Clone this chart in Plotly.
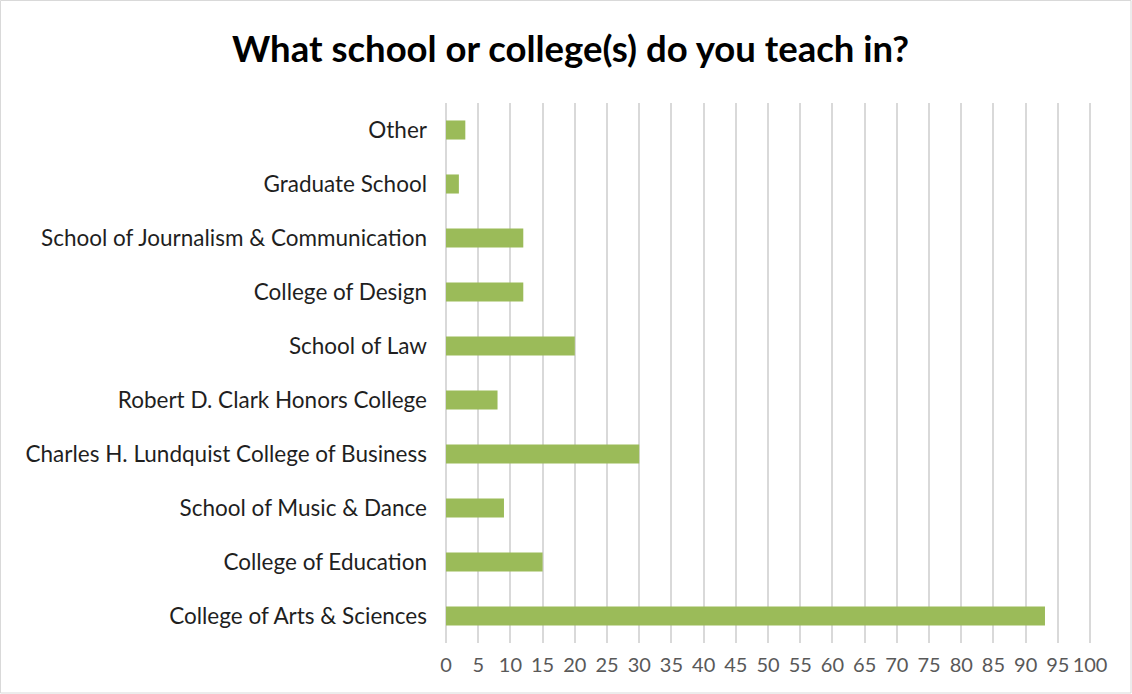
import plotly.graph_objects as go

categories = [
    "College of Arts & Sciences",
    "College of Education",
    "School of Music & Dance",
    "Charles H. Lundquist College of Business",
    "Robert D. Clark Honors College",
    "School of Law",
    "College of Design",
    "School of Journalism & Communication",
    "Graduate School",
    "Other",
]
values = [93, 15, 9, 30, 8, 20, 12, 12, 2, 3]
tick_vals = list(range(0, 101, 5))
tick_text = [str(v) for v in tick_vals]

bar_color = "#9bbb59"
font_family = "Lato, 'Open Sans', sans-serif"

fig = go.Figure(
    go.Bar(
        x=values,
        y=categories,
        orientation="h",
        marker=dict(color=bar_color, line=dict(width=0)),
        hoverinfo="x+y",
    )
)

fig.update_layout(
    width=1132,
    height=694,
    paper_bgcolor="white",
    plot_bgcolor="white",
    margin=dict(l=446, r=40, t=103, b=51),
    bargap=0.647,
    showlegend=False,
    title=dict(
        text="<b>What school or college(s) do you teach in?</b>",
        x=0.504,
        xref="container",
        y=0.929,
        yref="container",
        xanchor="center",
        yanchor="middle",
        font=dict(family=font_family, size=36.5, color="#000000"),
    ),
    font=dict(family=font_family),
)

fig.update_xaxes(
    range=[0, 100.3],
    tickmode="array",
    tickvals=tick_vals,
    ticktext=tick_text,
    showgrid=True,
    gridcolor="#d9d9d9",
    gridwidth=1.5,
    zeroline=True,
    zerolinecolor="#d9d9d9",
    zerolinewidth=1.5,
    showline=False,
    ticks="",
    ticklabelstandoff=8,
    tickfont=dict(family=font_family, size=20, color="#595959"),
    fixedrange=True,
)

fig.update_yaxes(
    categoryorder="array",
    categoryarray=categories,
    showgrid=False,
    showline=False,
    ticks="",
    ticklabelstandoff=18,
    tickfont=dict(family=font_family, size=22.5, color="#1f1f1f"),
    fixedrange=True,
)

# light chart border around the whole figure
fig.add_shape(
    type="rect",
    xref="paper",
    yref="paper",
    x0=-445.5 / 646,
    x1=1 + 39 / 646,
    y0=-50 / 540,
    y1=1 + 102.5 / 540,
    line=dict(color="#d9d9d9", width=1),
    fillcolor="rgba(0,0,0,0)",
    layer="below",
)

fig.write_html(
    "out.html",
    config={"displayModeBar": False},
    post_script="document.body.style.margin='0px';document.body.style.overflow='hidden';",
)
